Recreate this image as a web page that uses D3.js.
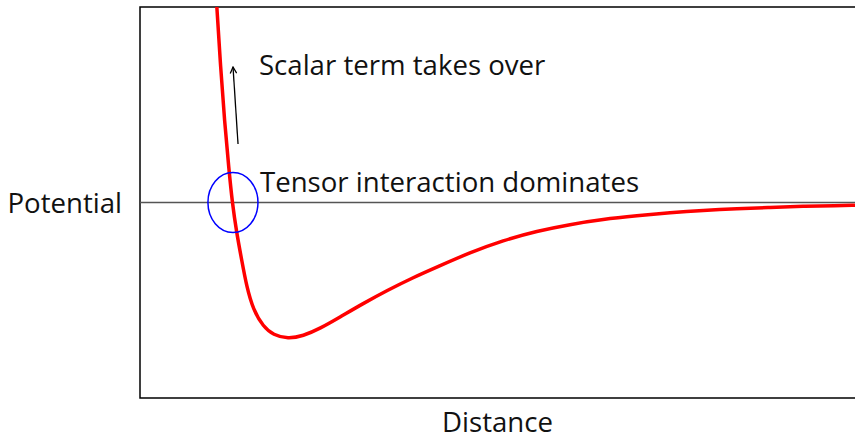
<!DOCTYPE html>
<html>
<head>
<meta charset="utf-8">
<script src="https://cdn.jsdelivr.net/npm/d3@7"></script>
<style>
  html, body { margin: 0; padding: 0; background: #fff; }
  svg { display: block; }
  text { font-family: "Open Sans", "DejaVu Sans", sans-serif; fill: #111; }
</style>
</head>
<body>
<div id="chart"></div>
<script>
// distance / potential samples
const distance = [1.074, 1.127, 1.183, 1.242, 1.291, 1.350, 1.422, 1.492, 1.585, 1.724,
  1.864, 2.070, 2.280, 2.517, 2.797, 3.119, 3.455, 3.818, 4.154, 4.615,
  5.077, 5.552, 6.014, 6.476, 6.951, 7.413, 7.874, 8.350, 8.811, 9.273, 9.748, 10.0];
const potential = [1.005, 0.693, 0.412, 0.176, -0.003, -0.151, -0.294, -0.431, -0.550, -0.635,
  -0.678, -0.698, -0.683, -0.645, -0.586, -0.517, -0.450, -0.384, -0.330, -0.256,
  -0.194, -0.146, -0.112, -0.086, -0.068, -0.052, -0.040, -0.032, -0.025, -0.019, -0.016, -0.014];

const xDomain = [0, 10];
const yDomain = [-1, 1];
const axisLabels = { x: 'Distance', y: 'Potential' };

const annotations = [
  { text: 'Scalar term takes over', x: 1.664, y: 0.652 },
  { text: 'Tensor interaction dominates', x: 1.678, y: 0.054 }
];
const arrow = { from: [1.371, 0.299], to: [1.301, 0.693] };
const marker = { x: 1.30, y: 0, rx: 0.35, ry: 0.153 };

const width = 855, height = 436;
const margin = { top: 7, right: 0, bottom: 38, left: 140 };
const innerW = width - margin.left - margin.right;
const innerH = height - margin.top - margin.bottom;
const fontSize = 27.6;

const svg = d3.select('#chart').append('svg')
  .attr('width', width).attr('height', height);

const defs = svg.append('defs');
defs.append('clipPath').attr('id', 'plot-clip')
  .append('rect').attr('width', innerW).attr('height', innerH);
defs.append('marker')
  .attr('id', 'arrowhead').attr('viewBox', '0 0 10 10')
  .attr('refX', 9).attr('refY', 5)
  .attr('markerWidth', 8).attr('markerHeight', 8)
  .attr('markerUnits', 'userSpaceOnUse')
  .attr('orient', 'auto')
  .append('path').attr('d', 'M1,1 L9,5 L1,9').attr('fill', 'none')
  .attr('stroke', '#000').attr('stroke-width', 1.6);

const plot = svg.append('g').attr('transform', `translate(${margin.left},${margin.top})`);

const x = d3.scaleLinear().domain(xDomain).range([0, innerW]);
const y = d3.scaleLinear().domain(yDomain).range([innerH, 0]);

// frame: left, top, bottom
plot.append('path')
  .attr('d', `M${innerW},0 H0 V${innerH} H${innerW}`)
  .attr('fill', 'none').attr('stroke', '#000').attr('stroke-width', 1.5);

// zero line
plot.append('line')
  .attr('x1', 0).attr('x2', innerW)
  .attr('y1', y(0)).attr('y2', y(0))
  .attr('stroke', '#555').attr('stroke-width', 1.5);

const points = distance.map((d, i) => ({ d, p: potential[i] }));
const line = d3.line().x((v) => x(v.d)).y((v) => y(v.p)).curve(d3.curveBasis);

plot.append('path')
  .datum(points)
  .attr('clip-path', 'url(#plot-clip)')
  .attr('d', line)
  .attr('fill', 'none').attr('stroke', '#ff0000').attr('stroke-width', 3.5);

plot.append('ellipse')
  .attr('cx', x(marker.x)).attr('cy', y(marker.y))
  .attr('rx', x(marker.rx) - x(0)).attr('ry', y(0) - y(marker.ry))
  .attr('fill', 'none').attr('stroke', '#0000ff').attr('stroke-width', 1.5);

plot.append('line')
  .attr('x1', x(arrow.from[0])).attr('y1', y(arrow.from[1]))
  .attr('x2', x(arrow.to[0])).attr('y2', y(arrow.to[1]))
  .attr('stroke', '#000').attr('stroke-width', 1.3)
  .attr('marker-end', 'url(#arrowhead)');

plot.selectAll('text.note').data(annotations).join('text')
  .attr('class', 'note')
  .attr('x', (a) => x(a.x)).attr('y', (a) => y(a.y))
  .attr('font-size', fontSize)
  .text((a) => a.text);

svg.append('text')
  .attr('x', margin.left + innerW / 2).attr('y', 432)
  .attr('text-anchor', 'middle').attr('font-size', fontSize)
  .text(axisLabels.x);

svg.append('text')
  .attr('x', 122).attr('y', margin.top + y(0) + 10)
  .attr('text-anchor', 'end').attr('font-size', fontSize)
  .text(axisLabels.y);
</script>
</body>
</html>
